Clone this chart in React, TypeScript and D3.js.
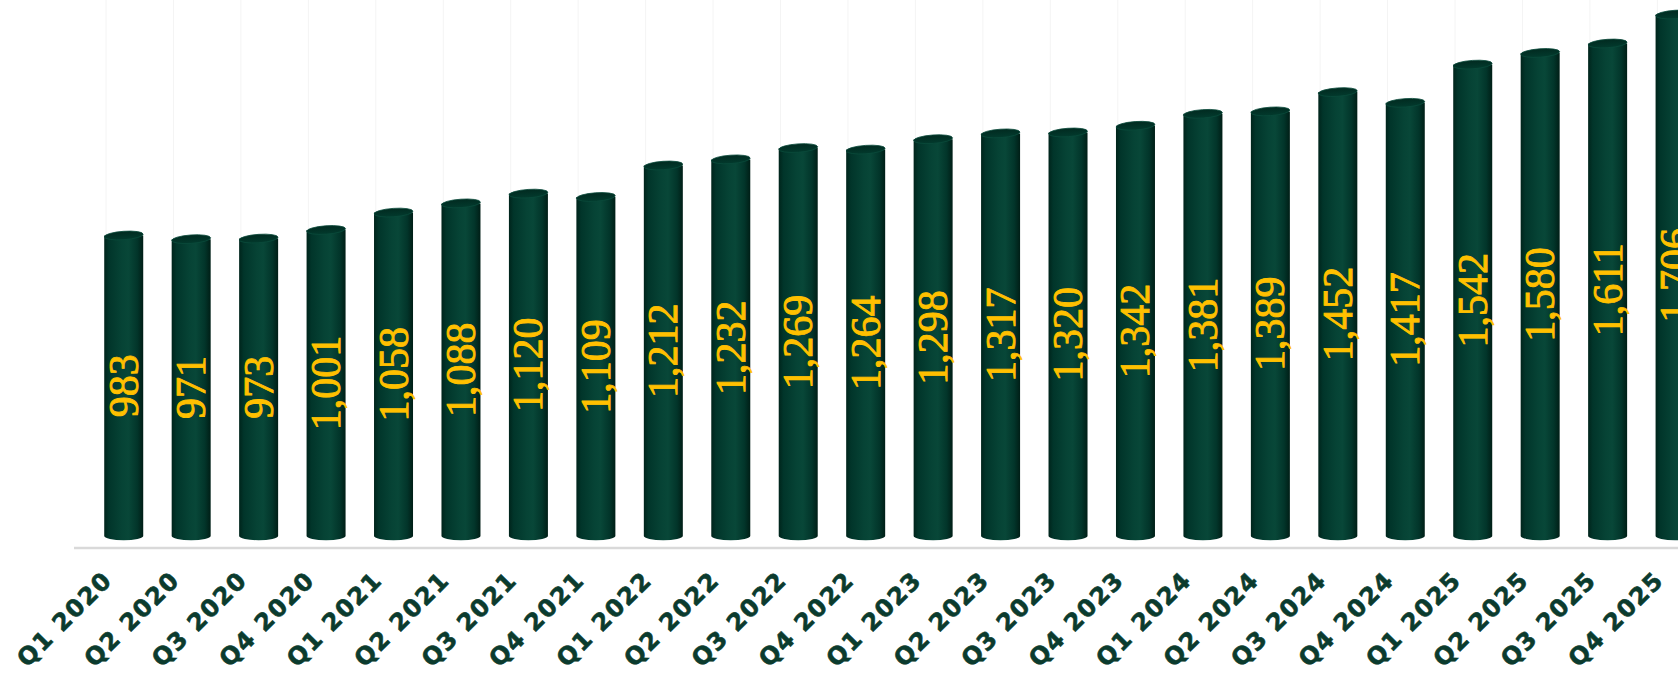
import React from "react";
import * as d3 from "d3";

const categories = [
  "Q1 2020", "Q2 2020", "Q3 2020", "Q4 2020",
  "Q1 2021", "Q2 2021", "Q3 2021", "Q4 2021",
  "Q1 2022", "Q2 2022", "Q3 2022", "Q4 2022",
  "Q1 2023", "Q2 2023", "Q3 2023", "Q4 2023",
  "Q1 2024", "Q2 2024", "Q3 2024", "Q4 2024",
  "Q1 2025", "Q2 2025", "Q3 2025", "Q4 2025",
];
const values = [
  983, 971, 973, 1001,
  1058, 1088, 1120, 1109,
  1212, 1232, 1269, 1264,
  1298, 1317, 1320, 1342,
  1381, 1389, 1452, 1417,
  1542, 1580, 1611, 1706,
];
const yDomain = [0, 1800];

const W = 1678;
const H = 674;

export default function App() {
  const x = d3
    .scaleBand<string>()
    .domain(categories)
    .range([74, 74 + categories.length * 67.45])
    .padding(0);
  const y = d3.scaleLinear().domain(yDomain).range([536, 536 - 1800 * 0.3057]);
  const fmt = d3.format(",");
  const bw = 39;
  const rx = bw / 2;
  const ry = 4.2;
  const depth = 16;

  return (
    <svg
      width={W}
      height={H}
      style={{ position: "absolute", left: 0, top: 0, display: "block", background: "#fff" }}
    >
      <defs>
        <linearGradient id="cyl" x1="0" x2="1" y1="0" y2="0">
          <stop offset="0%" stopColor="#00241b" />
          <stop offset="12%" stopColor="#01352a" />
          <stop offset="45%" stopColor="#064335" />
          <stop offset="62%" stopColor="#084738" />
          <stop offset="85%" stopColor="#02352a" />
          <stop offset="100%" stopColor="#001e16" />
        </linearGradient>
        <linearGradient id="cap" x1="0" x2="0" y1="0" y2="1">
          <stop offset="0%" stopColor="#012a20" />
          <stop offset="100%" stopColor="#023a2d" />
        </linearGradient>
      </defs>

      {/* faint back gridlines */}
      {categories.map((c) => (
        <line
          key={"g" + c}
          x1={(x(c) as number) + 32}
          x2={(x(c) as number) + 32}
          y1={0}
          y2={536}
          stroke="#f4f4f4"
          strokeWidth={1}
        />
      ))}

      {/* axis line */}
      <line x1={74} x2={W} y1={548} y2={548} stroke="#d9d9d9" strokeWidth={2.5} />

      {categories.map((c, i) => {
        const cx = (x(c) as number) + x.bandwidth() / 2 + depth;
        const yt = y(values[i]);
        const yb = y(0);
        const path = `M${cx - rx},${yt} L${cx - rx},${yb} A${rx},${ry} 0 0 0 ${cx + rx},${yb} L${cx + rx},${yt} Z`;
        return (
          <g key={c}>
            <path d={path} fill="url(#cyl)" />
            <ellipse
              cx={cx}
              cy={yt}
              rx={rx}
              ry={ry}
              fill="url(#cap)"
              stroke="#0a4a3a"
              strokeWidth={0.8}
              transform={`rotate(-4 ${cx} ${yt})`}
            />
            <text
              transform={`translate(${cx + 14},${(yt + yb) / 2}) rotate(-90)`}
              textAnchor="middle"
              fontFamily="'Liberation Serif', 'Times New Roman', serif"
              fontSize={42}
              fill="#ffc000"
              stroke="#ffc000"
              strokeWidth={0.9}
            >
              {fmt(values[i])}
            </text>
          </g>
        );
      })}

      {categories.map((c) => {
        const cx = (x(c) as number) + x.bandwidth() / 2 + depth;
        return (
          <text
            key={"l" + c}
            transform={`translate(${cx - 10},${581.5}) rotate(-45)`}
            textAnchor="end"
            fontFamily="'DejaVu Sans', Verdana, sans-serif"
            fontWeight="bold"
            fontSize={24}
            letterSpacing={1.5}
            fill="#0b3b2e"
            stroke="#0b3b2e"
            strokeWidth={0.6}
          >
            {c}
          </text>
        );
      })}
    </svg>
  );
}
